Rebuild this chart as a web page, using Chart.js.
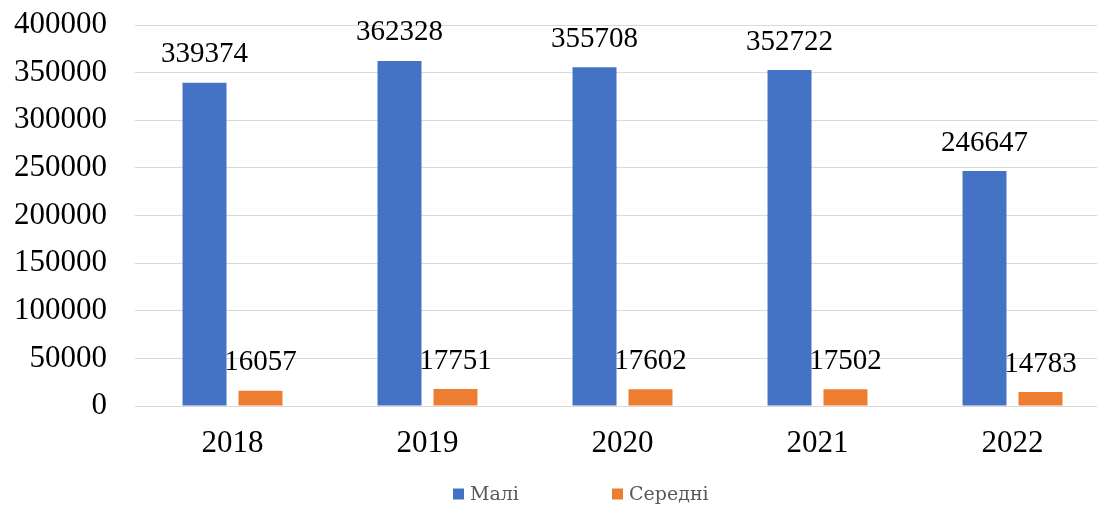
<!DOCTYPE html>
<html>
<head>
<meta charset="utf-8">
<script src="https://cdn.jsdelivr.net/npm/chart.js@4/dist/chart.umd.min.js"></script>
<style>
  html, body { margin: 0; padding: 0; background: #fff; overflow: hidden; }
</style>
</head>
<body>
<canvas id="myChart" width="1110" height="506"></canvas>
<script>
const years = ['2018', '2019', '2020', '2021', '2022'];
const small = [339374, 362328, 355708, 352722, 246647];
const medium = [16057, 17751, 17602, 17502, 14783];
const seriesNames = ['Малі', 'Середні'];
const seriesColors = ['#4472C4', '#ED7D31'];

const SERIF = '"Liberation Serif", "Times New Roman", serif';
const LEGEND_FONT = '19px "DejaVu Serif", "Liberation Serif", serif';

// value labels above every bar
const valueLabels = {
    id: 'valueLabels',
    afterDatasetsDraw(chart) {
        const ctx = chart.ctx;
        ctx.save();
        ctx.font = '29px ' + SERIF;
        ctx.fillStyle = '#000';
        ctx.textAlign = 'center';
        ctx.textBaseline = 'middle';
        chart.data.datasets.forEach((ds, i) => {
            chart.getDatasetMeta(i).data.forEach((bar, j) => {
                ctx.fillText(String(ds.data[j]), bar.x, bar.y - 28);
            });
        });
        ctx.restore();
    }
};

// legend drawn under the axis, small squares + grey serif text
const bottomLegend = {
    id: 'bottomLegend',
    afterDraw(chart) {
        const ctx = chart.ctx;
        const box = 11, gap = 6, step = 159;
        const left = 453, cy = 495;
        ctx.save();
        ctx.font = LEGEND_FONT;
        ctx.textBaseline = 'middle';
        chart.data.datasets.forEach((ds, i) => {
            const x = left + i * step;
            ctx.fillStyle = ds.backgroundColor;
            ctx.fillRect(x, cy - box / 2 - 1, box, box);
            ctx.fillStyle = '#595959';
            ctx.fillText(ds.label, x + box + gap, cy);
        });
        ctx.restore();
    }
};

new Chart(document.getElementById('myChart'), {
    type: 'bar',
    data: {
        labels: years,
        datasets: [
            { label: seriesNames[0], data: small, backgroundColor: seriesColors[0] },
            { label: seriesNames[1], data: medium, backgroundColor: seriesColors[1] }
        ]
    },
    options: {
        responsive: false,
        animation: false,
        devicePixelRatio: 1,
        datasets: {
            bar: { categoryPercentage: 0.574, barPercentage: 0.786 }
        },
        layout: { padding: { top: 25, bottom: 40, left: 0, right: 0 } },
        plugins: {
            legend: { display: false },
            tooltip: { enabled: false }
        },
        scales: {
            x: {
                grid: { display: false, drawTicks: false },
                border: { display: false },
                ticks: { color: '#000', padding: 19, font: { family: SERIF, size: 31 } },
                afterFit(scale) { scale.height = 60; scale.paddingLeft = 0; scale.paddingRight = 0; }
            },
            y: {
                min: 0,
                max: 400000,
                ticks: {
                    stepSize: 50000,
                    color: '#000',
                    padding: 28,
                    font: { family: SERIF, size: 31 },
                    callback: v => String(v)
                },
                grid: { color: '#d9d9d9', lineWidth: 1, drawTicks: false },
                border: { display: false },
                afterFit(scale) { scale.width = 135; scale.paddingTop = 0; scale.paddingBottom = 0; }
            }
        }
    },
    plugins: [valueLabels, bottomLegend]
});
</script>
</body>
</html>
